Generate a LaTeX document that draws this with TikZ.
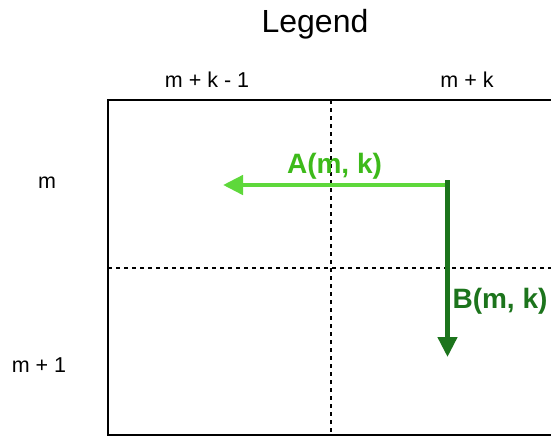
\documentclass[tikz,border=0pt]{standalone}
\usepackage{fontspec}
\setmainfont{Liberation Sans}
\usetikzlibrary{arrows.meta}
\definecolor{lightg}{HTML}{5ED83B}
\definecolor{lightgtext}{HTML}{3DBA1A}
\definecolor{darkg}{HTML}{1C741C}
\begin{document}
\begin{tikzpicture}[x=1pt,y=-1pt,
  lbl/.style={font=\fontsize{21.5}{25}\selectfont, inner sep=0pt, anchor=base},
  blbl/.style={font=\bfseries\fontsize{28}{32}\selectfont, inner sep=0pt, anchor=base},
  frame/.style={line width=2.8pt, line cap=rect},
  grid/.style={line width=1.6pt, dash pattern=on 4pt off 4pt},
  arr/.style={line width=4.5pt, -{Triangle[length=20pt,width=19pt]}}]
\useasboundingbox (0,0) rectangle (551,437);
% coordinates
\coordinate (tl) at (108,100);
\coordinate (tr) at (551,100);
\coordinate (bl) at (108,435);
\coordinate (br) at (551,435);
\coordinate (vt) at (331,100);
\coordinate (vb) at (331,435);
\coordinate (hl) at (108,268);
\coordinate (hr) at (551,268);
% grid
\draw[grid] (vt) -- (vb);
\draw[grid] (hl) -- (hr);
\draw[frame] (tr) -- (tl) -- (bl) -- (br);
% labels
\node[font=\fontsize{32}{36}\selectfont, inner sep=0pt, anchor=base] (legend) at (315,32) {Legend};
\node[lbl] (c1) at (207,87) {m + k - 1};
\node[lbl] (c2) at (467,87) {m + k};
\node[lbl] (r1) at (47,188) {m};
\node[lbl] (r2) at (39,372) {m + 1};
% arrows
\coordinate (astart) at (447,185);
\coordinate (aend) at (223,185);
\coordinate (bstart) at (447.5,180);
\coordinate (bend) at (447.5,357);
\draw[arr, lightg] (astart) -- (aend);
\draw[arr, darkg] (bstart) -- (bend);
\node[blbl, text=lightgtext] (la) at (334.5,173) {A(m, k)};
\node[blbl, text=darkg] (lb) at (500,308) {B(m, k)};
\end{tikzpicture}
\end{document}
